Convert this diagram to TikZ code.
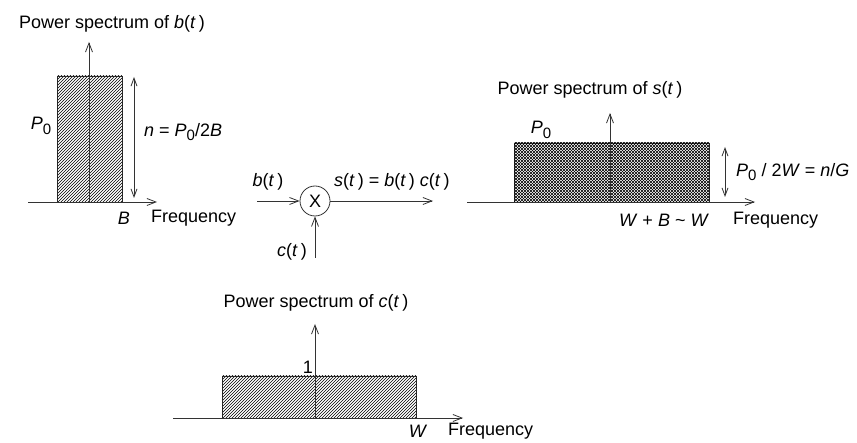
\documentclass[tikz,border=0pt]{standalone}
\usepackage{fontspec}
\setmainfont{Liberation Sans}
\usetikzlibrary{arrows.meta,patterns}

\newcommand{\sig}[1]{\textit{#1}(\textit{t}\,)}
\newcommand{\Pnull}{\textit{P}\raisebox{-.5ex}{\fontsize{15}{16}\selectfont 0}}

\tikzset{
  lbl/.style={inner sep=1pt,font=\fontsize{18}{20}\selectfont},
  ax/.style={draw=black!80,line width=.8pt,-{Straight Barb[length=9pt,width=7pt]}},
  dbl/.style={draw=black!80,line width=.8pt,{Straight Barb[length=8pt,width=6pt]}-{Straight Barb[length=8pt,width=6pt]}},
  band/.style={draw=black!85,line width=.8pt,pattern=north east lines},
  mixer/.style={circle,draw=black!80,line width=.8pt,minimum size=30pt,inner sep=0pt,font=\fontsize{18}{20}\selectfont}
}

\begin{document}
\begin{tikzpicture}[x=1pt,y=-1pt]
        \useasboundingbox (0,0) rectangle (857,443);
        % spectrum of b(t)
        \draw[band] (57,76) rectangle (122,202);
        \coordinate (bL) at (28,202);
        \coordinate (bR) at (157,202);
        \coordinate (bO) at (89,202);
        \coordinate (bT) at (89,42);
        \coordinate (nT) at (134,77);
        \coordinate (nB) at (134,198);
        \draw[ax] (bL)--(bR);
        \draw[ax] (bO)--(bT);
        \draw[dbl] (nT)--(nB);
        \draw (112,24) node[lbl] (btitle) {Power spectrum of \sig{b}};
        \draw (41,126) node[lbl] (bP) {\Pnull};
        \draw (143,132) node[lbl,anchor=west] (bn) {\textit{n} = \Pnull/2\textit{B}};
        \draw (124,218) node[lbl] (bB) {\textit{B}};
        \draw (150,218) node[lbl,anchor=west] (bF) {Frequency};

        % multiplier
        \draw (315,201) node[mixer] (mix) {X};
        \coordinate (bin) at (257,201);
        \coordinate (sout) at (433,201);
        \coordinate (cin) at (315,258);
        \draw[ax] (bin)--(mix);
        \draw[ax] (mix)--(sout);
        \draw[ax] (cin)--(mix);
        \draw (268,182) node[lbl] (bsig) {\sig{b}};
        \draw (333,182) node[lbl,anchor=west] (ssig) {\sig{s} = \sig{b} \sig{c}};
        \draw (292,252) node[lbl] (csig) {\sig{c}};

        % spectrum of s(t)
        \draw[band,pattern=north west lines] (514,143) rectangle (709,202);
        \fill[pattern=north east lines] (514,143) rectangle (709,202);
        \coordinate (sL) at (467,202);
        \coordinate (sR) at (755,202);
        \coordinate (sO) at (610,202);
        \coordinate (sT) at (610,113);
        \coordinate (gT) at (725,147);
        \coordinate (gB) at (725,197);
        \draw[ax] (sL)--(sR);
        \draw[ax] (sO)--(sT);
        \draw[dbl] (gT)--(gB);
        \draw (590,90) node[lbl] (stitle) {Power spectrum of \sig{s}};
        \draw (541,130) node[lbl] (sP) {\Pnull};
        \draw (735,172) node[lbl,anchor=west] (sg) {\Pnull\ / 2\textit{W} = \textit{n}/\textit{G}};
        \draw (664,220) node[lbl] (sW) {\textit{W} + \textit{B} \textasciitilde\ \textit{W}};
        \draw (732,220) node[lbl,anchor=west] (sF) {Frequency};

        % spectrum of c(t)
        \draw[band] (222,376) rectangle (416,418);
        \coordinate (cL) at (173,418);
        \coordinate (cR) at (463,418);
        \coordinate (cO) at (315,418);
        \coordinate (cT) at (315,324);
        \draw[ax] (cL)--(cR);
        \draw[ax] (cO)--(cT);
        \draw (316,303) node[lbl] (ctitle) {Power spectrum of \sig{c}};
        \draw (308,367) node[lbl] (cone) {1};
        \draw (418,431) node[lbl] (cW) {\textit{W}};
        \draw (447,431) node[lbl,anchor=west] (cF) {Frequency};
        \end{tikzpicture}
\end{document}
